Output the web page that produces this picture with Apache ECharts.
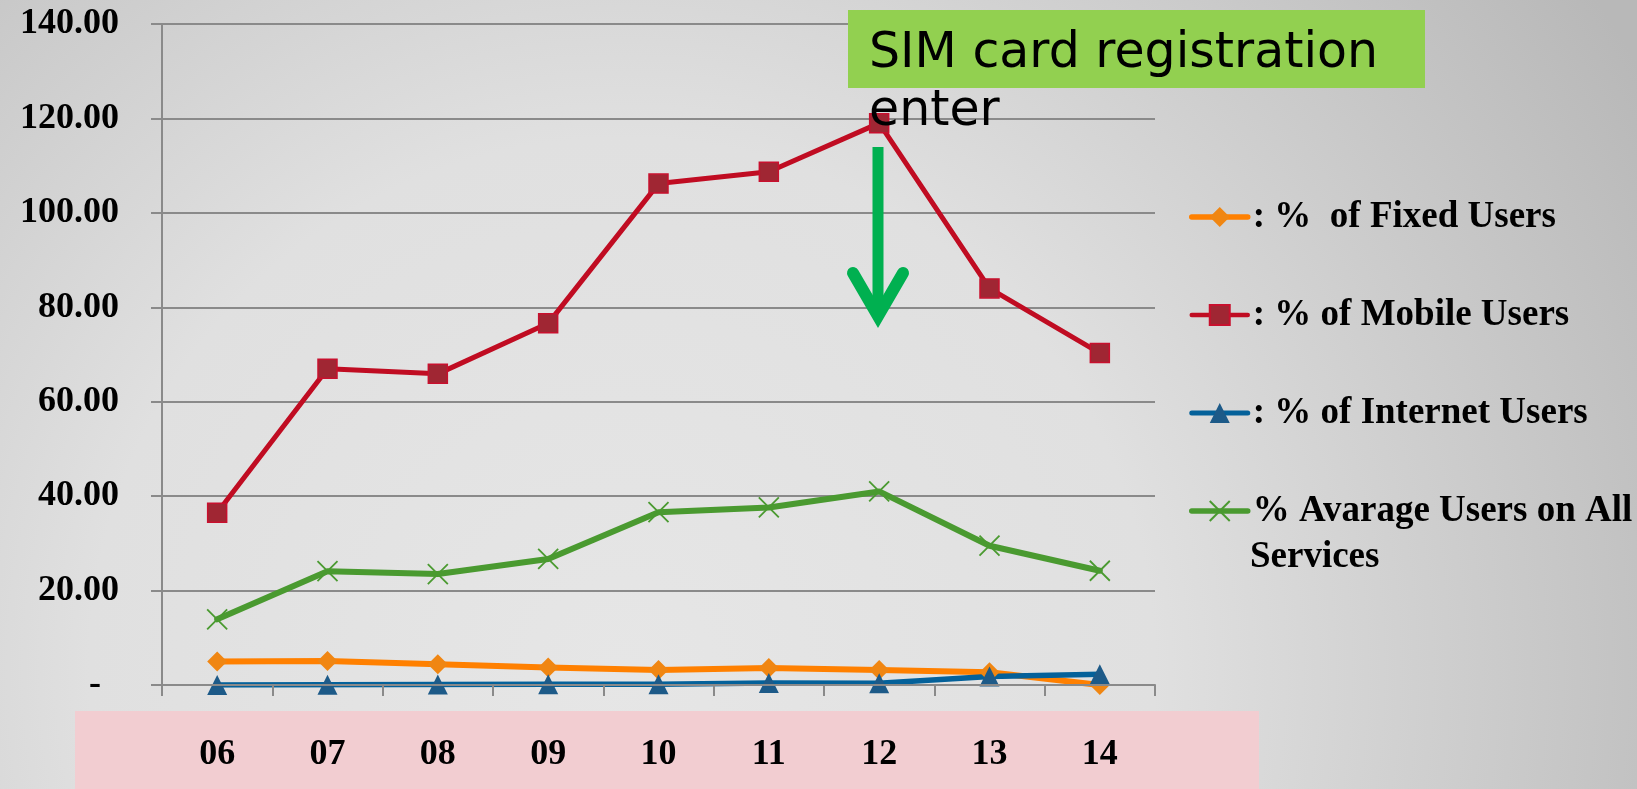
<!DOCTYPE html>
<html>
<head>
<meta charset="utf-8">
<script src="https://cdn.jsdelivr.net/npm/echarts@6/dist/echarts.min.js"></script>
<style>
html,body{margin:0;padding:0;width:1637px;height:789px;overflow:hidden;}
#chart{width:1637px;height:789px;}
</style>
</head>
<body>
<div id="chart"></div>
<script>
// ---- data ----
const categories = ['06', '07', '08', '09', '10', '11', '12', '13', '14'];
const fixedUsers = [5.0, 5.1, 4.4, 3.7, 3.2, 3.6, 3.2, 2.7, 0.0];
const mobileUsers = [36.5, 67.0, 65.9, 76.6, 106.2, 108.7, 119.0, 84.0, 70.3];
const internetUsers = [0.0, 0.05, 0.1, 0.15, 0.15, 0.4, 0.35, 1.8, 2.3];
const averageUsers = [13.9, 24.1, 23.5, 26.7, 36.6, 37.6, 41.0, 29.5, 24.2];
const seriesNames = [': %  of Fixed Users', ': % of Mobile Users', ': % of Internet Users', '% Avarage Users on All Services'];
const yTicks = { min: 0, max: 140, interval: 20 };
const annotationText = 'SIM card registration\nenter';

const SERIF = '"Liberation Serif", "Times New Roman", serif';
const chart = echarts.init(document.getElementById('chart'), null, { renderer: 'canvas' });

const gridColor = '#8a8a8a';
const lineColors = ['#ff8000', '#c00c22', '#04619a', '#4a9a30'];
const lineWidths = [6, 5, 5.5, 6];

const option = {
  animation: false,
  backgroundColor: {
    type: 'radial', x: 0.38, y: 0.85, r: 1.5,
    colorStops: [
      { offset: 0, color: '#e6e6e6' },
      { offset: 0.45, color: '#e0e0e0' },
      { offset: 1, color: '#b8b8b8' }
    ]
  },
  grid: { left: 162, right: 482, top: 24, bottom: 104, containLabel: false },
  xAxis: {
    type: 'category',
    data: categories,
    boundaryGap: true,
    axisLine: { show: true, lineStyle: { color: gridColor, width: 2 } },
    axisTick: { show: true, length: 11, lineStyle: { color: gridColor, width: 2 } },
    axisLabel: {
      margin: 52, color: '#000', fontFamily: SERIF, fontWeight: 'bold', fontSize: 36, lineHeight: 36
    },
    z: 5
  },
  yAxis: {
    type: 'value',
    min: yTicks.min, max: yTicks.max, interval: yTicks.interval,
    axisLine: { show: true, lineStyle: { color: gridColor, width: 2 } },
    axisTick: { show: true, length: 11, lineStyle: { color: gridColor, width: 2 } },
    splitLine: { show: true, lineStyle: { color: gridColor, width: 2 } },
    axisLabel: {
      margin: 43, color: '#000', fontFamily: SERIF, fontWeight: 'bold', fontSize: 36,
      padding: [6, 0, 0, 0],
      formatter: v => v === 0 ? '-\u00a0\u00a0' : v.toFixed(2)
    }
  },
  legend: {
    orient: 'vertical',
    left: 1189, top: 197, padding: 0,
    itemWidth: 56, itemHeight: 25, itemGap: 58,
    textStyle: { color: '#000', fontFamily: SERIF, fontWeight: 'bold', fontSize: 37, lineHeight: 40 },
    formatter: name => name === seriesNames[3] ? '% Avarage Users on All' : name,
    data: seriesNames.map((n, i) => ({ name: n, lineStyle: { width: lineWidths[i] - 0.5, color: lineColors[i], cap: 'round' } }))
  },
  series: [
    {
      name: seriesNames[0], type: 'line', data: fixedUsers,
      symbol: 'diamond', symbolSize: 20,
      lineStyle: { color: lineColors[0], width: lineWidths[0], cap: 'round', join: 'round' },
      itemStyle: { color: '#f08612', borderColor: '#f08612', borderWidth: 0 }
    },
    {
      name: seriesNames[1], type: 'line', data: mobileUsers,
      symbol: 'rect', symbolSize: 19,
      lineStyle: { color: lineColors[1], width: lineWidths[1], cap: 'round', join: 'round' },
      itemStyle: { color: '#a02633', borderColor: '#c8102e', borderWidth: 1.5 }
    },
    {
      name: seriesNames[2], type: 'line', data: internetUsers,
      symbol: 'triangle', symbolSize: 20,
      lineStyle: { color: lineColors[2], width: lineWidths[2], cap: 'round', join: 'round' },
      itemStyle: { color: '#1d5a88', borderColor: '#1d5a88', borderWidth: 0 }
    },
    {
      name: seriesNames[3], type: 'line', data: averageUsers,
      symbol: 'path://M0,0 L10,10 M10,0 L0,10', symbolSize: 20,
      lineStyle: { color: lineColors[3], width: lineWidths[3], cap: 'round', join: 'round' },
      itemStyle: { color: 'rgba(0,0,0,0)', borderColor: '#4a9a30', borderWidth: 1.8 }
    }
  ],
  graphic: [
    { type: 'rect', z: -10, silent: true,
      shape: { x: 75, y: 711, width: 1184, height: 78 },
      style: { fill: '#f2cdd1' } },
    { type: 'rect', z: 10, silent: true,
      shape: { x: 848, y: 10, width: 577, height: 78 },
      style: { fill: '#92d050' } },
    { type: 'text', z: 11, silent: true, x: 869, y: 25,
      style: { text: annotationText, font: '49px "DejaVu Sans", Verdana, sans-serif',
               fill: '#000', lineHeight: 58, verticalAlign: 'top', align: 'left' } },
    { type: 'line', z: 11, silent: true,
      shape: { x1: 878, y1: 147, x2: 878, y2: 312 },
      style: { stroke: '#00b050', lineWidth: 11, lineCap: 'butt' } },
    { type: 'polyline', z: 11, silent: true,
      shape: { points: [[853, 273], [878, 316], [903, 273]] },
      style: { stroke: '#00b050', lineWidth: 12, lineCap: 'round', lineJoin: 'miter', fill: null } },
    { type: 'text', z: 11, silent: true, x: 1250, y: 557,
      style: { text: 'Services', font: 'bold 37px ' + SERIF, fill: '#000', verticalAlign: 'middle', align: 'left' } }
  ]
};
chart.setOption(option);
</script>
</body>
</html>
